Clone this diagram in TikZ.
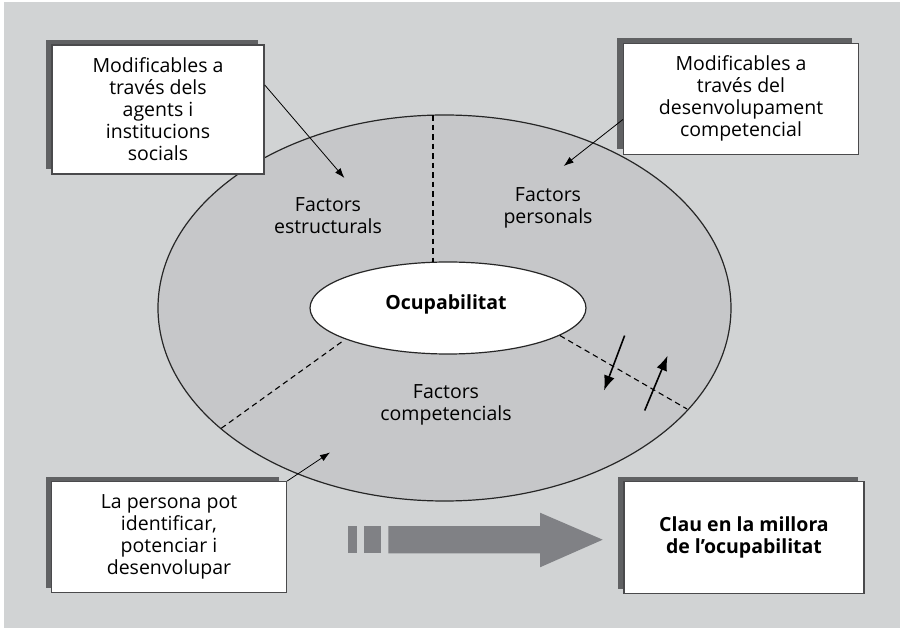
\documentclass[tikz,border=0pt]{standalone}
\usepackage{fontspec}
\setmainfont{Open Sans}
\usetikzlibrary{arrows.meta,calc,shapes.geometric}

\definecolor{bggray}{HTML}{D1D3D4}
\definecolor{ringgray}{HTML}{C6C7C9}
\definecolor{shadowgray}{HTML}{606163}
\definecolor{framegray}{HTML}{4A4A4C}
\definecolor{bigarrow}{HTML}{808185}

\newcommand{\boxfont}{\fontsize{19.5}{22}\selectfont}

\tikzset{
  note/.style={draw=framegray, line width=1.3pt, fill=white, align=center,
    inner sep=0pt, font=\boxfont},
  label text/.style={align=center, font=\boxfont},
  sector/.style={line width=1.1pt, dash pattern=on 5.5pt off 4pt},
  pointer/.style={line width=0.8pt, -{Latex[length=10pt,width=7pt]}},
  flow/.style={line width=1.6pt, -{Latex[length=15pt,width=11pt]}}
}

\begin{document}
\begin{tikzpicture}[x=1pt, y=-1pt]
  \useasboundingbox (0,0) rectangle (900,628);
  \fill[white] (0,0) rectangle (900,628);
  \fill[bggray] (4,2) rectangle (900,628);

  % outer ring and central ellipse
  \draw[fill=ringgray, draw=black!85, line width=1.2pt]
    (444.5,308) ellipse [x radius=286.5, y radius=193];
  \node (core) [ellipse, draw=black!85, line width=1.2pt, fill=white,
    minimum width=276, minimum height=92, inner sep=0pt] at (448,308) {};
  \node (coretext) [font=\boxfont\bfseries] at (446,304) {Ocupabilitat};

  % sector borders
  \coordinate (vtop) at (433,115.2);
  \coordinate (vbot) at (433,262.3);
  \coordinate (lin) at (341.5,342);
  \coordinate (lout) at (221,428.5);
  \coordinate (rin) at (560,335.6);
  \coordinate (rout) at (687,409);
  \draw[sector] (vtop) -- (vbot);
  \draw[sector] (lin) -- (lout);
  \draw[sector] (rin) -- (rout);

  % two-way exchange across the border
  \coordinate (d1) at (624.6,335.6);
  \coordinate (d2) at (604,390.5);
  \coordinate (u1) at (644.7,410.5);
  \coordinate (u2) at (667.6,355.6);
  \draw[flow] (d1) -- (d2);
  \draw[flow] (u1) -- (u2);

  % sector labels
  \node (estr) [label text] at (328,216) {Factors\\estructurals};
  \node (pers) [label text] at (548,208) {Factors\\personals};
  \node (comp) [label text] at (446,405) {Factors\\competencials};

  % shadows of the boxes
  \fill[shadowgray] (46,40) rectangle (258,169);
  \fill[shadowgray] (617,38) rectangle (852,149);
  \fill[shadowgray] (46,477) rectangle (279,588);
  \fill[shadowgray] (618,477) rectangle (858,589);

  % boxes
  \node (tl) [note, minimum width=212, minimum height=129] at (158,109.5)
    {Modificables a\\través dels\\agents i\\institucions\\socials};
  \node (tr) [note, minimum width=235, minimum height=111] at (741,98.7)
    {Modificables a\\través del\\desenvolupament\\competencial};
  \node (bl) [note, minimum width=235, minimum height=111] at (169,537.2)
    {La persona pot\\identificar,\\potenciar i\\desenvolupar};
  \node (br) [note, minimum width=240, minimum height=112, font=\boxfont\bfseries]
    at (744,537.5) {Clau en la millora\\de l’ocupabilitat};

  % pointers from the boxes into the sectors
  \coordinate (ptl) at (344.4,178);
  \coordinate (ptr) at (563.7,166);
  \coordinate (pbl) at (330,452.5);
  \draw[pointer] (tl.13.5) -- (ptl);
  \draw[pointer] (tr.190) -- (ptr);
  \draw[pointer] (bl.north east) -- (pbl);

  % broad grey arrow
  \fill[bigarrow] (348.3,526) rectangle (356.7,553.3);
  \fill[bigarrow] (364.3,526) rectangle (380.7,553.3);
  \fill[bigarrow] (388.3,526) -- (540,526) -- (540,512.7) -- (602.7,539.7)
    -- (540,567.3) -- (540,553.3) -- (388.3,553.3) -- cycle;
\end{tikzpicture}
\end{document}
